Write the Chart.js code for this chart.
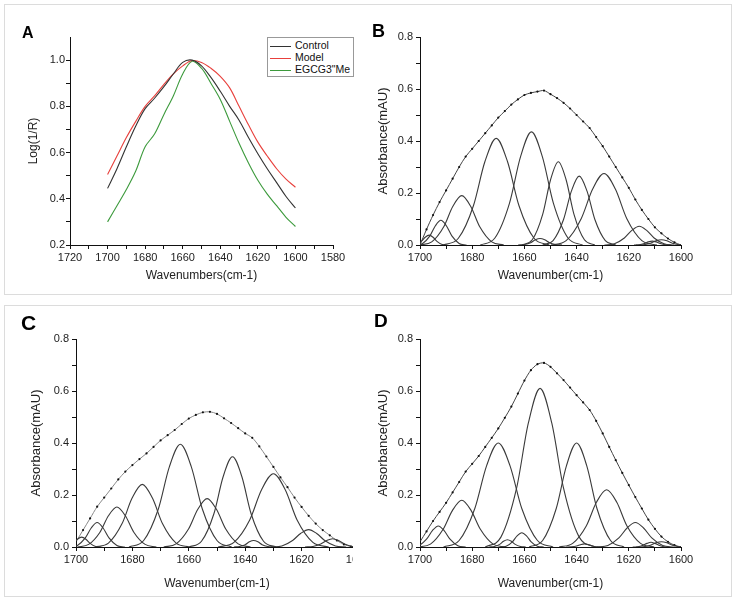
<!DOCTYPE html>
<html>
<head>
<meta charset="utf-8">
<script src="https://cdn.jsdelivr.net/npm/chart.js@4.4.1/dist/chart.umd.min.js"></script>
<style>
  body { margin: 0; background: #fff; width: 737px; height: 598px; position: relative; overflow: hidden;
         font-family: "Liberation Sans", Arial, sans-serif; }
  .box { position: absolute; border: 1px solid #dcdcdc; }
  .wrap { position: absolute; overflow: hidden; }
  canvas { position: absolute; }
  .tag { position: absolute; font-weight: bold; color: #000; line-height: 1; }
  #legendA { position: absolute; left: 267px; top: 37px; border: 1px solid #999; padding: 1px 3px 1px 2px;
             font-size: 10.5px; line-height: 12px; color: #111; background: #fff; }
  #legendA div { white-space: nowrap; }
  #legendA span { display: inline-block; width: 21px; height: 0; border-top: 1px solid; vertical-align: middle; margin-right: 4px; }
</style>
</head>
<body>
<div class="box" style="left:4px; top:4px; width:726px; height:289px;"></div>
<div class="box" style="left:4px; top:305px; width:726px; height:290px;"></div>

<canvas id="chartA" width="355" height="280" style="left:4px; top:10px;"></canvas>
<canvas id="chartB" width="360" height="280" style="left:366px; top:10px;"></canvas>
<div class="wrap" style="left:4px; top:310px; width:349px; height:282px;">
  <canvas id="chartC" width="380" height="282" style="left:0; top:0;"></canvas>
</div>
<canvas id="chartD" width="360" height="282" style="left:366px; top:310px;"></canvas>

<div class="tag" style="left:22px; top:25px; font-size:16px;">A</div>
<div class="tag" style="left:372px; top:22px; font-size:18px;">B</div>
<div class="tag" style="left:21px; top:312px; font-size:21px;">C</div>
<div class="tag" style="left:374px; top:311px; font-size:19px;">D</div>

<div id="legendA">
  <div><span style="color:#333"></span>Control</div>
  <div><span style="color:#e8403c"></span>Model</div>
  <div><span style="color:#3c9a3c"></span>EGCG3"Me</div>
</div>

<script>
// Panel A: normalised spectra
const wavenumbersA = [1700, 1695, 1690, 1685, 1680, 1675, 1670, 1665, 1660, 1655, 1650,
                      1645, 1640, 1635, 1630, 1625, 1620, 1615, 1610, 1605, 1600];
const control = [0.445, 0.53, 0.625, 0.715, 0.79, 0.835, 0.885, 0.94, 0.99, 1.0, 0.975,
                 0.925, 0.865, 0.80, 0.74, 0.665, 0.595, 0.53, 0.47, 0.41, 0.36];
const model = [0.505, 0.585, 0.665, 0.735, 0.80, 0.845, 0.895, 0.94, 0.975, 0.998, 0.99,
               0.965, 0.93, 0.88, 0.80, 0.72, 0.645, 0.585, 0.53, 0.485, 0.45];
const egcg = [0.30, 0.37, 0.44, 0.52, 0.625, 0.68, 0.765, 0.845, 0.94, 0.995, 0.965,
              0.90, 0.83, 0.735, 0.64, 0.555, 0.48, 0.42, 0.37, 0.32, 0.28];

// Panels B-D: fitted envelope
const envWn = [1700, 1697.5, 1695, 1692.5, 1690, 1687.5, 1685, 1682.5, 1680, 1677.5, 1675,
               1672.5, 1670, 1667.5, 1665, 1662.5, 1660, 1657.5, 1655, 1652.5, 1650,
               1647.5, 1645, 1642.5, 1640, 1637.5, 1635, 1632.5, 1630, 1627.5, 1625,
               1622.5, 1620, 1617.5, 1615, 1612.5, 1610, 1607.5, 1605, 1602.5, 1600];
const envelopeB = [0.0, 0.06, 0.115, 0.165, 0.21, 0.255, 0.30, 0.34, 0.37, 0.40, 0.43,
                   0.46, 0.49, 0.515, 0.54, 0.56, 0.577, 0.585, 0.59, 0.594, 0.58,
                   0.565, 0.547, 0.525, 0.50, 0.475, 0.45, 0.415, 0.38, 0.34, 0.30,
                   0.26, 0.22, 0.175, 0.135, 0.10, 0.068, 0.045, 0.025, 0.01, 0.0];
const envelopeC = [0.02, 0.065, 0.11, 0.155, 0.19, 0.225, 0.26, 0.29, 0.315, 0.338, 0.36,
                   0.385, 0.41, 0.43, 0.45, 0.473, 0.494, 0.508, 0.518, 0.52, 0.512,
                   0.495, 0.477, 0.457, 0.437, 0.42, 0.387, 0.348, 0.308, 0.268, 0.23,
                   0.19, 0.154, 0.12, 0.09, 0.065, 0.045, 0.025, 0.01, 0.002, 0];
const envelopeD = [0.02, 0.06, 0.10, 0.135, 0.17, 0.21, 0.25, 0.29, 0.32, 0.35, 0.385,
                   0.42, 0.456, 0.497, 0.54, 0.59, 0.64, 0.68, 0.703, 0.708, 0.693,
                   0.668, 0.642, 0.613, 0.584, 0.556, 0.527, 0.485, 0.437, 0.385, 0.334,
                   0.285, 0.238, 0.192, 0.148, 0.105, 0.07, 0.04, 0.02, 0.007, 0];

// component bands, [wavenumber, absorbance]
const peaksB = [
  [[1689.5,0],[1691.5,0.002],[1693.5,0.014],[1695,0.030],[1696.5,0.038],[1698,0.030],[1699.5,0.014],[1701.5,0.002],[1703.5,0]],
  [[1682.2,0],[1685,0.006],[1687.8,0.035],[1689.9,0.074],[1692,0.095],[1694.1,0.074],[1696.2,0.035],[1699,0.006],[1701.8,0]],
  [[1667.9,0],[1672.5,0.012],[1677.1,0.070],[1680.55,0.148],[1684,0.19],[1687.45,0.148],[1690.9,0.070],[1695.5,0.012],[1700.1,0]],
  [[1650.5,0],[1656.3,0.026],[1662.1,0.152],[1666.45,0.320],[1670.8,0.41],[1675.15,0.320],[1679.5,0.152],[1685.3,0.026],[1691.1,0]],
  [[1637.7,0],[1643.3,0.027],[1648.9,0.161],[1653.1,0.339],[1657.3,0.435],[1661.5,0.339],[1665.7,0.161],[1671.3,0.027],[1676.9,0]],
  [[1633,0],[1637,0.020],[1641,0.118],[1644,0.250],[1647,0.32],[1650,0.250],[1653,0.118],[1657,0.020],[1661,0]],
  [[1625,0],[1629,0.017],[1633,0.098],[1636,0.207],[1639,0.265],[1642,0.207],[1645,0.098],[1649,0.017],[1653,0]],
  [[1609.2,0],[1615,0.017],[1620.8,0.102],[1625.15,0.215],[1629.5,0.275],[1633.85,0.215],[1638.2,0.102],[1644,0.017],[1649.8,0]],
  [[1602.7,0],[1606.5,0.005],[1610.3,0.027],[1613.15,0.056],[1616,0.072],[1618.85,0.056],[1621.7,0.027],[1625.5,0.005],[1629.3,0]],
  [[1645.6,0],[1648,0.002],[1650.4,0.009],[1652.2,0.020],[1654,0.025],[1655.8,0.020],[1657.6,0.009],[1660,0.002],[1662.4,0]],
  [[1604,0],[1606,0.001],[1608,0.006],[1609.5,0.012],[1611,0.015],[1612.5,0.012],[1614,0.006],[1616,0.001],[1618,0]],
  [[1597.7,0],[1600.5,0.001],[1603.3,0.007],[1605.4,0.016],[1607.5,0.02],[1609.6,0.016],[1611.7,0.007],[1614.5,0.001],[1617.3,0]]
];
const peaksC = [
  [[1691,0],[1693,0.002],[1695,0.014],[1696.5,0.030],[1698,0.038],[1699.5,0.030],[1701,0.014],[1703,0.002],[1705,0]],
  [[1682.7,0],[1685.5,0.006],[1688.3,0.035],[1690.4,0.073],[1692.5,0.094],[1694.6,0.073],[1696.7,0.035],[1699.5,0.006],[1702.3,0]],
  [[1671.5,0],[1675.5,0.010],[1679.5,0.057],[1682.5,0.120],[1685.5,0.154],[1688.5,0.120],[1691.5,0.057],[1695.5,0.010],[1699.5,0]],
  [[1659.7,0],[1664.5,0.015],[1669.3,0.089],[1672.9,0.188],[1676.5,0.241],[1680.1,0.188],[1683.7,0.089],[1688.5,0.015],[1693.3,0]],
  [[1644.8,0],[1650,0.025],[1655.2,0.146],[1659.1,0.308],[1663,0.395],[1666.9,0.308],[1670.8,0.146],[1676,0.025],[1681.2,0]],
  [[1638.1,0],[1642.5,0.012],[1646.9,0.069],[1650.2,0.145],[1653.5,0.186],[1656.8,0.145],[1660.1,0.069],[1664.5,0.012],[1668.9,0]],
  [[1629.1,0],[1633.5,0.022],[1637.9,0.128],[1641.2,0.271],[1644.5,0.347],[1647.8,0.271],[1651.1,0.128],[1655.5,0.022],[1659.9,0]],
  [[1630,0],[1632,0.002],[1634,0.009],[1635.5,0.020],[1637,0.025],[1638.5,0.020],[1640,0.009],[1642,0.002],[1644,0]],
  [[1610.4,0],[1616,0.018],[1621.6,0.104],[1625.8,0.220],[1630,0.282],[1634.2,0.220],[1638.4,0.104],[1644,0.018],[1649.6,0]],
  [[1604.2,0],[1608,0.004],[1611.8,0.025],[1614.65,0.052],[1617.5,0.067],[1620.35,0.052],[1623.2,0.025],[1627,0.004],[1630.8,0]],
  [[1599.2,0],[1602,0.002],[1604.8,0.012],[1606.9,0.025],[1609,0.032],[1611.1,0.025],[1613.2,0.012],[1616,0.002],[1618.8,0]]
];
const peaksD = [
  [[1682.5,0],[1685.5,0.005],[1688.5,0.030],[1690.75,0.063],[1693,0.081],[1695.25,0.063],[1697.5,0.030],[1700.5,0.005],[1703.5,0]],
  [[1667.2,0],[1672,0.011],[1676.8,0.067],[1680.4,0.140],[1684,0.18],[1687.6,0.140],[1691.2,0.067],[1696,0.011],[1700.8,0]],
  [[1649,0],[1655,0.025],[1661,0.148],[1665.5,0.312],[1670,0.40],[1674.5,0.312],[1679,0.148],[1685,0.025],[1691,0]],
  [[1659.5,0],[1661.5,0.002],[1663.5,0.010],[1665,0.022],[1666.5,0.028],[1668,0.022],[1669.5,0.010],[1671.5,0.002],[1673.5,0]],
  [[1652.6,0],[1655,0.003],[1657.4,0.020],[1659.2,0.043],[1661,0.055],[1662.8,0.043],[1664.6,0.020],[1667,0.003],[1669.4,0]],
  [[1633,0],[1639,0.038],[1645,0.226],[1649.5,0.476],[1654,0.61],[1658.5,0.476],[1663,0.226],[1669,0.038],[1675,0]],
  [[1621.8,0],[1627,0.025],[1632.2,0.148],[1636.1,0.312],[1640,0.40],[1643.9,0.312],[1647.8,0.148],[1653,0.025],[1658.2,0]],
  [[1610.3,0],[1615.5,0.014],[1620.7,0.081],[1624.6,0.172],[1628.5,0.22],[1632.4,0.172],[1636.3,0.081],[1641.5,0.014],[1646.7,0]],
  [[1602.8,0],[1607,0.006],[1611.2,0.035],[1614.35,0.073],[1617.5,0.094],[1620.65,0.073],[1623.8,0.035],[1628,0.006],[1632.2,0]],
  [[1630,0],[1632,0.001],[1634,0.004],[1635.5,0.009],[1637,0.012],[1638.5,0.009],[1640,0.004],[1642,0.001],[1644,0]],
  [[1604.5,0],[1606.5,0.001],[1608.5,0.007],[1610,0.014],[1611.5,0.018],[1613,0.014],[1614.5,0.007],[1616.5,0.001],[1618.5,0]],
  [[1597.7,0],[1600.5,0.001],[1603.3,0.007],[1605.4,0.016],[1607.5,0.02],[1609.6,0.016],[1611.7,0.007],[1614.5,0.001],[1617.3,0]]
];

const tickFont = { family: '"Liberation Sans", Arial, sans-serif', size: 11 };
const axisColor = '#111';

function ejeX(min, max, titulo, alto, padTitulo) {
    return {
        type: 'linear', min: min, max: max, reverse: true,
        afterFit: s => { s.height = alto; },
        border: { display: true, color: axisColor, width: 1 },
        grid: { drawOnChartArea: false, drawTicks: true, tickLength: 4, color: axisColor },
        ticks: {
            stepSize: 10, autoSkip: false, maxRotation: 0, padding: 2, color: '#222', font: tickFont,
            callback: v => (v % 20 === 0 ? String(v) : '')
        },
        title: { display: true, text: titulo, color: '#222',
                 font: { family: tickFont.family, size: 12 }, padding: { top: 0, bottom: padTitulo } }
    };
}

function ejeY(min, max, titulo, ancho, padTitulo, tamTitulo, padTicks) {
    return {
        type: 'linear', min: min, max: max,
        afterFit: s => { s.width = ancho; },
        border: { display: true, color: axisColor, width: 1 },
        grid: { drawOnChartArea: false, drawTicks: true, tickLength: 4,
                color: ctx => (ctx.tick && ctx.tick.value > max - 0.05 && Math.round(max * 10) % 2 ? 'rgba(0,0,0,0)' : axisColor) },
        ticks: {
            stepSize: 0.1, autoSkip: false, padding: padTicks, color: '#222', font: tickFont,
            callback: v => (Math.round(v * 10) % 2 === 0 ? v.toFixed(1) : '')
        },
        title: { display: true, text: titulo, color: '#222',
                 font: { family: tickFont.family, size: tamTitulo }, padding: { top: padTitulo, bottom: 0 } }
    };
}

function opciones(x, y, padding) {
    return {
        responsive: false, animation: false, events: [],
        layout: { padding: padding },
        plugins: { legend: { display: false }, tooltip: { enabled: false } },
        scales: { x: x, y: y }
    };
}

function datasetPicos(picos) {
    return picos.map(p => ({
        data: p.map(([x, y]) => ({ x: x, y: y })),
        borderColor: '#3a3a3a', borderWidth: 1.1, pointRadius: 0,
        cubicInterpolationMode: 'monotone'
    }));
}

function datasetEnvolvente(valores, color) {
    return {
        data: envWn.map((x, i) => ({ x: x, y: valores[i] })),
        borderColor: color, borderWidth: 1, tension: 0.3,
        pointRadius: 1.1, pointBorderWidth: 0, pointBackgroundColor: '#111'
    };
}

// Gráfico A
new Chart(document.getElementById('chartA'), {
    type: 'line',
    data: {
        datasets: [
            { data: wavenumbersA.map((x, i) => ({ x: x, y: control[i] })), borderColor: '#333' },
            { data: wavenumbersA.map((x, i) => ({ x: x, y: model[i] })), borderColor: '#e8403c' },
            { data: wavenumbersA.map((x, i) => ({ x: x, y: egcg[i] })), borderColor: '#3c9a3c' }
        ].map(d => Object.assign(d, { borderWidth: 1.1, pointRadius: 0, tension: 0.35 }))
    },
    options: opciones(
        ejeX(1580, 1720, 'Wavenumbers(cm-1)', 45, 7),
        ejeY(0.2, 1.1, 'Log(1/R)', 66, 22, 12, 1),
        { left: 0, top: 27, right: 26, bottom: 0 }
    )
});

// Gráficos B, C, D
[
    ['chartB', envelopeB, peaksB, '#444', 54, 10, { left: 0, top: 27, right: 45, bottom: 0 }, 7],
    ['chartC', envelopeC, peaksC, '#888', 72, 25, { left: 0, top: 29, right: 26, bottom: 0 }, 1],
    ['chartD', envelopeD, peaksD, '#444', 54, 10, { left: 0, top: 29, right: 45, bottom: 0 }, 1]
].forEach(([id, env, picos, colorEnv, anchoY, padY, padding, padX]) => {
    new Chart(document.getElementById(id), {
        type: 'line',
        data: { datasets: datasetPicos(picos).concat([datasetEnvolvente(env, colorEnv)]) },
        options: opciones(
            ejeX(1600, 1700, 'Wavenumber(cm-1)', 45, padX),
            ejeY(0, 0.8, 'Absorbance(mAU)', anchoY, padY, 13, 3),
            padding
        )
    });
});
</script>
</body>
</html>
